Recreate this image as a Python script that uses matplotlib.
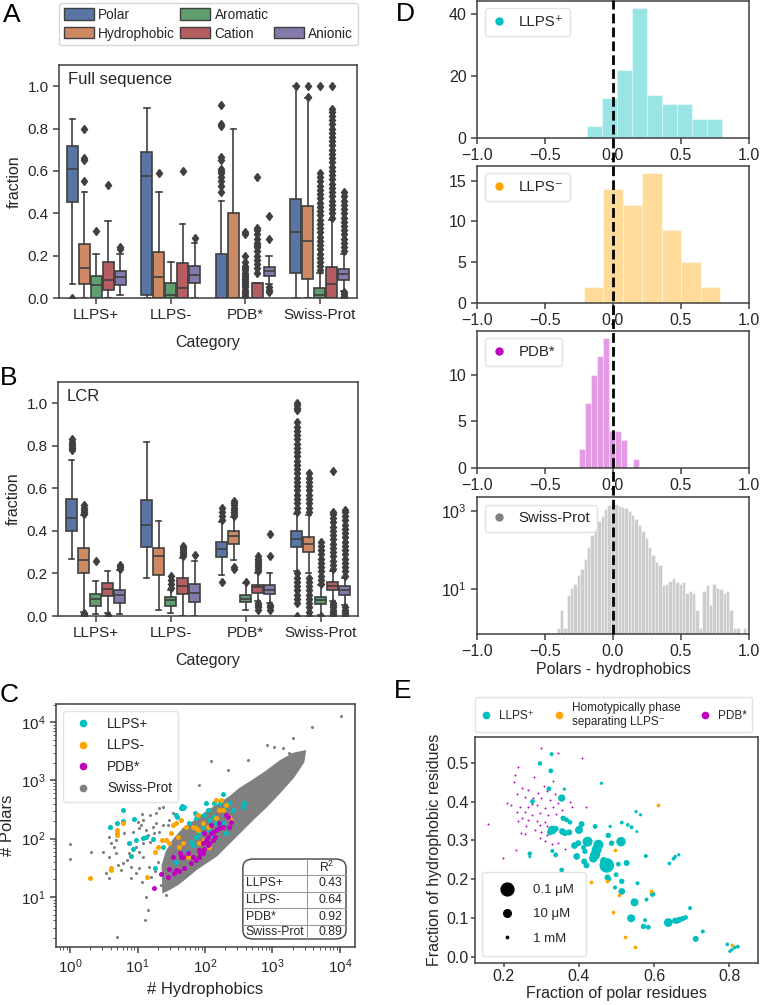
import numpy as np
import matplotlib
matplotlib.use('Agg')
import matplotlib.pyplot as plt
from matplotlib.lines import Line2D
from matplotlib.patches import Patch, FancyBboxPatch

plt.rcParams['font.family'] = ['Liberation Sans', 'DejaVu Sans']
plt.rcParams['mathtext.fontset'] = 'custom'
plt.rcParams['mathtext.rm'] = 'Liberation Sans'
plt.rcParams['mathtext.it'] = 'Liberation Sans:italic'
plt.rcParams['mathtext.bf'] = 'Liberation Sans:bold'
plt.rcParams['axes.edgecolor'] = '#404040'
plt.rcParams['axes.linewidth'] = 1.1
plt.rcParams['text.color'] = '#262626'
plt.rcParams['axes.labelcolor'] = '#262626'
for a in ('xtick', 'ytick'):
    plt.rcParams[f'{a}.color'] = '#404040'
    plt.rcParams[f'{a}.labelcolor'] = '#262626'
    plt.rcParams[f'{a}.major.size'] = 4
    plt.rcParams[f'{a}.minor.size'] = 2.5
    plt.rcParams[f'{a}.major.width'] = 1.1

# ── A / B : box plots (summary stats) ────────────────────────────────────────
categories = ['LLPS+', 'LLPS-', 'PDB*', 'Swiss-Prot']
residue_types = ['Polar', 'Hydrophobic', 'Aromatic', 'Cation', 'Anionic']

full_med = [[0.607, 0.143, 0.060, 0.084, 0.100],
            [0.578, 0.100, 0.013, 0.048, 0.110],
            [0.000, 0.000, 0.000, 0.000, 0.128],
            [0.310, 0.268, 0.013, 0.068, 0.113]]
full_q1 = [[0.455, 0.068, 0.000, 0.037, 0.060],
           [0.013, 0.000, 0.000, 0.000, 0.070],
           [0.000, 0.000, 0.000, 0.000, 0.103],
           [0.119, 0.092, 0.000, 0.000, 0.084]]
full_q3 = [[0.718, 0.254, 0.103, 0.168, 0.127],
           [0.690, 0.219, 0.070, 0.163, 0.152],
           [0.210, 0.400, 0.000, 0.073, 0.148],
           [0.469, 0.433, 0.049, 0.148, 0.135]]
full_lo = [[0.068, 0.000, 0.000, 0.000, 0.013],
           [0.000, 0.000, 0.000, 0.000, 0.000],
           [0.000, 0.000, 0.000, 0.000, 0.068],
           [0.000, 0.000, 0.000, 0.000, 0.035]]
full_hi = [[0.845, 0.500, 0.210, 0.364, 0.210],
           [0.897, 0.500, 0.172, 0.350, 0.260],
           [0.460, 0.800, 0.000, 0.073, 0.200],
           [1.000, 0.943, 0.120, 0.370, 0.210]]
full_fliers = [
    [[0.0], [0.55, 0.65, 0.66, 0.80], [0.315], [0.535], [0.23, 0.24]],
    [[], [0.59], [], [0.60], [0.285]],
    [[0.50, 0.53, 0.55, 0.57, 0.59, 0.60, 0.61, 0.65, 0.665, 0.81, 0.82, 0.91],
     [],
     [0.01, 0.02, 0.03, 0.04, 0.05, 0.06, 0.07, 0.08, 0.09, 0.10, 0.11, 0.12, 0.13,
      0.14, 0.15, 0.17, 0.20, 0.30, 0.31],
     [0.12, 0.14, 0.16, 0.18, 0.20, 0.22, 0.24, 0.25, 0.26, 0.28, 0.30, 0.32, 0.33, 0.57],
     [0.03, 0.04, 0.05, 0.28, 0.385]],
    [[1.0],
     [0.95, 1.0],
     [0.13, 0.15, 0.17, 0.19, 0.21, 0.23, 0.25, 0.27, 0.29, 0.31, 0.33, 0.35, 0.37,
      0.39, 0.41, 0.43, 0.45, 0.47, 0.49, 0.51, 0.53, 0.55, 0.57, 0.59, 1.0],
     [0.38, 0.40, 0.42, 0.44, 0.46, 0.48, 0.50, 0.52, 0.54, 0.56, 0.58, 0.60, 0.62,
      0.64, 0.66, 0.68, 0.70, 0.72, 0.74, 0.76, 0.78, 0.80, 0.82, 0.84, 0.86, 0.88,
      0.89, 1.0],
     [0.0, 0.01, 0.02, 0.03, 0.22, 0.24, 0.26, 0.28, 0.30, 0.32, 0.34, 0.36, 0.38,
      0.40, 0.42, 0.44, 0.46, 0.48, 0.50]],
]

lcr_med = [[0.462, 0.262, 0.079, 0.126, 0.098],
           [0.426, 0.280, 0.073, 0.142, 0.110],
           [0.315, 0.375, 0.082, 0.136, 0.123],
           [0.360, 0.339, 0.073, 0.139, 0.120]]
lcr_q1 = [[0.399, 0.202, 0.047, 0.095, 0.060],
          [0.323, 0.194, 0.049, 0.104, 0.068],
          [0.278, 0.339, 0.065, 0.107, 0.102],
          [0.323, 0.300, 0.055, 0.120, 0.099]]
lcr_q3 = [[0.552, 0.319, 0.103, 0.155, 0.123],
          [0.544, 0.319, 0.088, 0.178, 0.150],
          [0.347, 0.400, 0.098, 0.148, 0.147],
          [0.399, 0.372, 0.091, 0.158, 0.139]]
lcr_lo = [[0.270, 0.020, 0.010, 0.015, 0.010],
          [0.178, 0.028, 0.016, 0.000, 0.000],
          [0.194, 0.265, 0.028, 0.070, 0.060],
          [0.210, 0.200, 0.005, 0.070, 0.050]]
lcr_hi = [[0.732, 0.475, 0.166, 0.210, 0.215],
          [0.820, 0.446, 0.123, 0.273, 0.260],
          [0.440, 0.465, 0.155, 0.200, 0.200],
          [0.480, 0.475, 0.145, 0.210, 0.180]]
lcr_fliers = [
    [[0.78, 0.79, 0.80, 0.81, 0.82, 0.83],
     [0.0, 0.005, 0.01, 0.015, 0.48, 0.49, 0.50, 0.51, 0.52],
     [0.26], [0.0, 0.005], [0.22, 0.23, 0.24]],
    [[], [], [0.13, 0.15, 0.17, 0.19], [0.28, 0.29, 0.30, 0.31, 0.32, 0.33], [0.285]],
    [[0.16, 0.45, 0.47, 0.49, 0.51],
     [0.22, 0.23, 0.47, 0.48, 0.49, 0.50, 0.51, 0.52, 0.53, 0.54],
     [0.16],
     [0.03, 0.04, 0.05, 0.06, 0.21, 0.22, 0.23, 0.24, 0.25, 0.26, 0.27, 0.28],
     [0.03, 0.04, 0.05, 0.28, 0.385]],
    [[0.0, 0.06, 0.08, 0.10, 0.12, 0.14, 0.16, 0.18, 0.20, 0.49, 0.51, 0.53, 0.55,
      0.57, 0.59, 0.61, 0.63, 0.65, 0.67, 0.69, 0.71, 0.73, 0.75, 0.77, 0.79, 0.81,
      0.83, 0.85, 0.87, 0.89, 0.91, 0.97, 0.98, 0.99, 1.0],
     [0.0, 0.02, 0.04, 0.06, 0.08, 0.10, 0.12, 0.14, 0.16, 0.18, 0.49, 0.51, 0.53,
      0.55, 0.57, 0.59, 0.61, 0.63, 0.65, 0.67],
     [0.0, 0.15, 0.17, 0.19, 0.21, 0.23, 0.25, 0.27, 0.29, 0.31, 0.33, 0.35],
     [0.0, 0.01, 0.02, 0.03, 0.04, 0.05, 0.06, 0.22, 0.24, 0.26, 0.28, 0.30, 0.32,
      0.34, 0.36, 0.38, 0.40, 0.42, 0.44, 0.46, 0.48, 0.49, 0.68],
     [0.0, 0.01, 0.02, 0.03, 0.04, 0.19, 0.21, 0.23, 0.25, 0.27, 0.29, 0.31, 0.33,
      0.35, 0.37, 0.39, 0.41, 0.43, 0.45, 0.47, 0.49, 0.50]],
]

# ── C : # polars vs # hydrophobics ───────────────────────────────────────────
c_llps_pos_hyd = [6.0, 6.0, 5.0, 3.9, 9.0, 9.5, 12.2, 13.4, 16.8, 7.4, 8.5, 8.0, 45.6, 49.4,
                  47.7, 44.1, 37.2, 38, 103, 137, 183, 167, 198, 229, 383, 361, 257, 130,
                  116, 146, 92, 82, 74, 62, 66, 116, 130, 163, 183, 205, 55, 37, 18.4, 23.6,
                  58.6, 98, 74, 110, 70]
c_llps_pos_pol = [310, 204, 183, 161, 217, 95, 101, 105, 97, 83, 66, 51, 363, 354, 340, 331,
                  255, 232, 404, 404, 575, 404, 363, 404, 404, 354, 310, 238, 209, 183, 161,
                  123, 108, 89, 78, 141, 101, 161, 183, 123, 60, 40, 31, 73, 183, 255, 223,
                  310, 272]
c_llps_neg_hyd = [2.0, 4.0, 4.0, 5.0, 5.0, 4.9, 6.0, 13.7, 18, 19.9, 23, 26.4, 31.4, 33.2,
                  37.2, 44.1, 41.7, 46.7, 52.3, 65.7, 73.6, 77.8, 92.3, 110, 146, 163, 183,
                  205, 243, 82.4, 97.7, 116, 55.4, 146, 173, 229, 77.8, 39.4, 29.6]
c_llps_neg_pol = [21.4, 29, 31, 141, 123, 116, 183, 22.3, 60, 73, 95, 95, 123, 172, 183, 209,
                  73, 83, 161, 161, 150, 141, 183, 161, 223, 310, 310, 378, 209, 83, 95, 73,
                  49, 460, 460, 238, 255, 108, 83]
c_pdb_hyd = [17.8, 22.5, 28, 29.6, 35.1, 37.2, 41.7, 49.4, 44.1, 47.7, 42.6, 55.4, 65.7, 82.4,
             92.3, 97.7, 92.3, 103, 110, 123, 130, 146, 163, 183, 205, 229, 243, 217, 116,
             110, 130, 142, 82.4, 97.7, 123, 163, 84.3, 62, 73.6, 33.2]
c_pdb_pol = [14.1, 24.8, 22.3, 29.8, 25.4, 29, 28.3, 31, 49.1, 49.1, 56.1, 56.1, 49.1, 64,
             56.1, 65.6, 83.2, 94.9, 108, 123, 132, 141, 150, 156, 255, 161, 196, 238, 83.2,
             77.8, 94.9, 108, 49.1, 123, 172, 183, 56.1, 37.8, 43.1, 49.1]
# outline of the dense Swiss-Prot cloud (upper edge right->left, lower edge left->right)
c_sp_cloud_hyd = [3030, 2037, 1291, 820, 520, 330, 235, 167, 106, 67, 48, 34, 27, 23.6,
                  24.1, 30.3, 40.3, 53.5, 75.3, 106, 149, 209, 330, 520, 820, 1291, 2037,
                  2864]
c_sp_cloud_pol = [3140, 2864, 2117, 1426, 1000, 719, 518, 398, 287, 193, 148, 94, 59, 35,
                  12.2, 13.9, 16.9, 22, 30.6, 39.8, 51.8, 76.9, 130, 220, 363, 631, 1141,
                  2061]
# scattered Swiss-Prot proteins outside the dense cloud
c_sp_hyd = [10350, 3846, 2037, 820, 1065, 1415, 1775, 429, 217, 123, 82, 23.6, 21, 18.8,
            15.3, 11.7, 12.2, 10, 11.3, 10.6, 13.4, 16.8, 18.8, 23.6, 21, 17.8, 14.1, 15.3,
            11.9, 9.5, 10.6, 7.6, 7.1, 6.0, 8.0, 10.6, 9.5, 8.0, 11.7, 4.8, 3.8, 4.05, 4.5,
            4.8, 3.8, 3.05, 5.1, 5.7, 2.05, 1, 1, 11.9, 15, 13.4, 14.1, 13.1, 4.9, 33.2,
            29.6, 28, 8.5, 6.4, 3.4, 3.8, 20, 18, 16, 22, 26]
c_sp_pol = [12840, 8318, 5248, 4036, 3776, 3631, 2904, 2233, 1503, 2143, 832, 354, 331, 272,
            255, 261, 209, 196, 172, 150, 141, 161, 183, 172, 132, 123, 116, 89, 83, 73, 60,
            56, 43, 38, 33, 31, 25.4, 20.9, 18.3, 95, 108, 83, 73, 56, 49, 60, 35, 29, 60,
            81, 45, 49, 33, 10.1, 6.0, 4.0, 2.1, 272, 209, 172, 132, 123, 25.4, 20.9, 40,
            28, 22, 16, 11]
r2_labels = ['LLPS+', 'LLPS-', 'PDB*', 'Swiss-Prot']
r2_values = ['0.43', '0.64', '0.92', '0.89']

# ── D : polars - hydrophobics histograms ─────────────────────────────────────
d_llps_pos_counts = [4, 13, 22, 42, 14, 11, 11, 6, 6]
d_llps_pos_range = (-0.19, 0.80)
d_llps_neg_counts = [2, 14, 12, 16, 9, 5, 2]
d_llps_neg_range = (-0.213, 0.789)
d_pdb_counts = [2, 7, 10, 12, 14, 4, 4, 3, 0, 1]
d_pdb_range = (-0.247, 0.193)
d_sp_counts = [1, 3, 1, 7, 11, 14, 23, 33, 61, 122, 243, 360, 555, 760, 1130, 1430, 1660,
               1480, 1370, 1290, 1170, 1000, 790, 620, 455, 306, 207, 122, 74, 50, 41, 13,
               14, 16, 20, 15, 14, 15, 8, 9, 8, 3, 1, 9, 13, 4, 14, 11, 10, 8, 9, 3, 1, 1,
               0, 1]
d_sp_range = (-0.415, 0.98)

# ── E : polar vs hydrophobic fraction, size = saturation concentration ──────
e_llps_polar = [0.327, 0.296, 0.325, 0.320, 0.361, 0.460, 0.354, 0.276, 0.358, 0.367, 0.376,
                0.407, 0.443, 0.483, 0.514, 0.530, 0.540, 0.552, 0.564, 0.554, 0.329, 0.323,
                0.338, 0.356, 0.363, 0.374, 0.400, 0.388, 0.398, 0.423, 0.452, 0.447, 0.443,
                0.438, 0.478, 0.512, 0.487, 0.416, 0.412, 0.394, 0.414, 0.420, 0.474, 0.466,
                0.505, 0.527, 0.329, 0.338, 0.269, 0.269, 0.354, 0.476, 0.480, 0.499, 0.514,
                0.556, 0.496, 0.514, 0.596, 0.580, 0.548, 0.539, 0.576, 0.572, 0.585, 0.638,
                0.656, 0.667, 0.676, 0.684, 0.661, 0.696, 0.711, 0.730, 0.641, 0.652, 0.656,
                0.666, 0.578, 0.795, 0.823, 0.814, 0.807, 0.802]
e_llps_hydro = [0.522, 0.498, 0.479, 0.433, 0.432, 0.447, 0.409, 0.400, 0.357, 0.353, 0.347,
                0.342, 0.336, 0.336, 0.346, 0.340, 0.334, 0.374, 0.366, 0.323, 0.327, 0.321,
                0.330, 0.323, 0.319, 0.321, 0.327, 0.287, 0.293, 0.297, 0.289, 0.276, 0.263,
                0.254, 0.313, 0.297, 0.293, 0.272, 0.282, 0.259, 0.246, 0.236, 0.236, 0.248,
                0.239, 0.242, 0.273, 0.263, 0.266, 0.258, 0.224, 0.205, 0.201, 0.212, 0.195,
                0.190, 0.179, 0.169, 0.162, 0.148, 0.141, 0.100, 0.095, 0.079, 0.077, 0.089,
                0.094, 0.096, 0.099, 0.102, 0.092, 0.126, 0.047, 0.066, 0.241, 0.253, 0.258,
                0.263, 0.260, 0.033, 0.027, 0.025, 0.019, 0.015]
e_llps_csat_uM = [240, 150, 120, 120, 450, 450, 13, 120, 70, 120, 120, 41, 120, 450, 300, 300,
                  240, 450, 450, 600, 3.8, 41, 41, 22, 41, 41, 7, 22, 41, 1.2, 1.2, 1.2, 1.2,
                  5, 70, 2, 70, 70, 120, 22, 41, 41, 0.02, 13, 120, 41, 240, 120, 150, 600,
                  120, 41, 120, 120, 70, 240, 240, 22, 70, 240, 7, 7, 240, 70, 120, 3.8, 41,
                  41, 70, 120, 120, 240, 41, 240, 300, 300, 300, 450, 240, 300, 240, 240, 450,
                  450]
e_homo_polar = [0.610, 0.496, 0.432, 0.474, 0.507, 0.591, 0.492, 0.523, 0.549, 0.809]
e_homo_hydro = [0.390, 0.276, 0.192, 0.197, 0.160, 0.169, 0.117, 0.051, 0.026, 0.030]
e_pdb_polar = [0.298, 0.343, 0.407, 0.238, 0.228, 0.281, 0.307, 0.330, 0.247, 0.265, 0.292,
               0.314, 0.336, 0.234, 0.256, 0.278, 0.300, 0.323, 0.345, 0.207, 0.220, 0.243,
               0.265, 0.287, 0.309, 0.332, 0.376, 0.381, 0.420, 0.234, 0.256, 0.274, 0.296,
               0.318, 0.340, 0.247, 0.265, 0.287, 0.309, 0.238, 0.296, 0.314, 0.260, 0.158,
               0.245, 0.256, 0.314, 0.296, 0.309, 0.345, 0.327, 0.231, 0.363, 0.198, 0.300,
               0.283, 0.274, 0.354, 0.363, 0.229]
e_pdb_hydro = [0.537, 0.526, 0.512, 0.490, 0.450, 0.464, 0.439, 0.452, 0.434, 0.430, 0.422,
               0.426, 0.419, 0.419, 0.413, 0.409, 0.410, 0.404, 0.396, 0.396, 0.390, 0.387,
               0.387, 0.392, 0.383, 0.387, 0.400, 0.387, 0.387, 0.374, 0.373, 0.366, 0.370,
               0.366, 0.368, 0.357, 0.353, 0.350, 0.347, 0.349, 0.340, 0.336, 0.336, 0.342,
               0.319, 0.316, 0.314, 0.306, 0.299, 0.293, 0.290, 0.276, 0.278, 0.256, 0.323,
               0.327, 0.393, 0.379, 0.353, 0.469]
e_size_legend_uM = [0.1, 10, 1000]
e_size_legend_labels = ['0.1 μM', '10 μM', '1 mM']

# ── style ─────────────────────────────────────────────────────────────────────
BOX_COLORS = ['#5875a4', '#cc8963', '#5f9e6e', '#b55d60', '#857aab']
LINE_GRAY = '#3f3f3f'
W, H = 762, 1005


def rect(left, top, right, bottom):
    return [left / W, 1 - bottom / H, (right - left) / W, (bottom - top) / H]


def csat_size(c_uM):
    d_px = 10.2 - 2.6 * np.log10(np.asarray(c_uM, dtype=float))
    return (0.72 * d_px) ** 2


def draw_boxes(ax, med, q1, q3, lo, hi, fliers, title):
    for i in range(len(categories)):
        for j in range(len(residue_types)):
            st = dict(med=med[i][j], q1=q1[i][j], q3=q3[i][j],
                      whislo=lo[i][j], whishi=hi[i][j], fliers=fliers[i][j])
            ax.bxp([st], positions=[i + (j - 2) * 0.16], widths=0.15, patch_artist=True,
                   manage_ticks=False,
                   boxprops=dict(facecolor=BOX_COLORS[j], edgecolor=LINE_GRAY, linewidth=1.2),
                   medianprops=dict(color=LINE_GRAY, linewidth=1.2),
                   whiskerprops=dict(color=LINE_GRAY, linewidth=1.2),
                   capprops=dict(color=LINE_GRAY, linewidth=1.2),
                   flierprops=dict(marker='d', markerfacecolor=LINE_GRAY,
                                   markeredgecolor=LINE_GRAY, markersize=4.5, linestyle='none'))
    ax.set_xlim(-0.5, 3.5)
    ax.set_ylim(0, 1.1)
    ax.set_xticks(range(len(categories)))
    ax.set_xticklabels(categories)
    ax.set_yticks([0, 0.2, 0.4, 0.6, 0.8, 1.0])
    ax.tick_params(labelsize=11)
    ax.set_xlabel('Category', fontsize=11.5, labelpad=9)
    ax.set_ylabel('fraction', fontsize=11.5)
    ax.text(0.03, 0.97, title, transform=ax.transAxes, fontsize=12, va='top', ha='left')


fig = plt.figure(figsize=(W / 100, H / 100), dpi=100)

# A
ax_a = fig.add_axes(rect(59, 65, 357, 298))
draw_boxes(ax_a, full_med, full_q1, full_q3, full_lo, full_hi, full_fliers, 'Full sequence')
handles = [Patch(facecolor=BOX_COLORS[0], edgecolor=LINE_GRAY),
           Patch(facecolor=BOX_COLORS[1], edgecolor=LINE_GRAY),
           Patch(facecolor=BOX_COLORS[2], edgecolor=LINE_GRAY),
           Patch(facecolor=BOX_COLORS[3], edgecolor=LINE_GRAY),
           Patch(facecolor='none', edgecolor='none'),
           Patch(facecolor=BOX_COLORS[4], edgecolor=LINE_GRAY)]
labels = ['Polar', 'Hydrophobic', 'Aromatic', 'Cation', '', 'Anionic']
fig.legend(handles, labels, ncol=3, loc='upper left', mode='expand',
           bbox_to_anchor=(59 / W, 1 - 46 / H, 299 / W, 43 / H), borderaxespad=0,
           fontsize=9.8, handlelength=2.2, handleheight=0.9, columnspacing=0.4,
           handletextpad=0.3, labelspacing=0.35, borderpad=0.35, edgecolor='#cccccc')

# B
ax_b = fig.add_axes(rect(58, 382, 358, 616))
draw_boxes(ax_b, lcr_med, lcr_q1, lcr_q3, lcr_lo, lcr_hi, lcr_fliers, 'LCR')

# C
ax_c = fig.add_axes(rect(56, 704, 355, 947))
ax_c.set_xscale('log')
ax_c.set_yscale('log')
ax_c.fill(c_sp_cloud_hyd, c_sp_cloud_pol, color='gray', lw=1.5, zorder=1)
ax_c.scatter(c_sp_hyd, c_sp_pol, s=5, color='gray', lw=0, zorder=1)
ax_c.scatter(c_llps_pos_hyd, c_llps_pos_pol, s=13, color='c', lw=0, zorder=2)
ax_c.scatter(c_llps_neg_hyd, c_llps_neg_pol, s=13, color='orange', lw=0, zorder=2)
ax_c.scatter(c_pdb_hyd, c_pdb_pol, s=13, color='m', lw=0, zorder=3)
ax_c.set_xlim(0.62, 16700)
ax_c.set_ylim(1.39, 20400)
ax_c.tick_params(labelsize=11)
ax_c.set_xlabel('# Hydrophobics', fontsize=12)
ax_c.set_ylabel('# Polars', fontsize=12)
leg_h = [Line2D([], [], marker='o', ls='', color=col, markersize=4.5)
         for col in ['c', 'orange', 'm', 'gray']]
ax_c.legend(leg_h, ['LLPS+', 'LLPS-', 'PDB*', 'Swiss-Prot'], loc='upper left',
            fontsize=9.8, handletextpad=0.8, labelspacing=0.55, borderpad=0.45,
            edgecolor='#dddddd')
# R^2 table
tx0, tx1, ty0, ty1, colx = 0.625, 0.970, 0.033, 0.362, 0.839
row_lines = [0.296, 0.228, 0.159, 0.091]
ax_c.add_patch(FancyBboxPatch((tx0, ty0), tx1 - tx0, ty1 - ty0,
                              boxstyle='round,pad=0,rounding_size=0.035',
                              transform=ax_c.transAxes, facecolor='white',
                              edgecolor='#404040', lw=1, zorder=5))
ax_c.plot([colx, colx], [ty0, ty1], transform=ax_c.transAxes, color='#999999', lw=0.8, zorder=6)
for yl in row_lines:
    ax_c.plot([tx0, tx1], [yl, yl], transform=ax_c.transAxes, color='#999999', lw=0.8, zorder=6)
ax_c.text((colx + tx1) / 2, (ty1 + row_lines[0]) / 2, 'R$^2$', transform=ax_c.transAxes,
          ha='center', va='center', fontsize=8.8, zorder=7)
row_edges = row_lines + [ty0]
for k, (lab, val) in enumerate(zip(r2_labels, r2_values)):
    yc = (row_edges[k] + row_edges[k + 1]) / 2
    ax_c.text(tx0 + 0.01, yc, lab, transform=ax_c.transAxes,
              ha='left', va='center', fontsize=8.8, zorder=7)
    ax_c.text(tx1 - 0.012, yc, val, transform=ax_c.transAxes, ha='right', va='center',
              fontsize=8.8, zorder=7)

# D
d_panels = [
    (rect(477, 1, 749, 138), d_llps_pos_counts, d_llps_pos_range, 'c', 'LLPS⁺', [0, 20, 40]),
    (rect(477, 166, 749, 303), d_llps_neg_counts, d_llps_neg_range, 'orange', 'LLPS⁻',
     [0, 5, 10, 15]),
    (rect(477, 331, 749, 468), d_pdb_counts, d_pdb_range, 'm', 'PDB*', [0, 5, 10]),
    (rect(477, 497, 749, 634), d_sp_counts, d_sp_range, 'gray', 'Swiss-Prot', None),
]
for pos, counts, rng, col, lab, yt in d_panels:
    ax = fig.add_axes(pos)
    edges = np.linspace(rng[0], rng[1], len(counts) + 1)
    centers = (edges[:-1] + edges[1:]) / 2
    if yt is None:
        ax.set_yscale('log')
    ax.hist(centers, bins=edges, weights=counts, color=col, alpha=0.4,
            edgecolor='white', linewidth=0.8)
    ax.set_xlim(-1, 1)
    ax.set_xticks([-1, -0.5, 0, 0.5, 1])
    if yt is None:
        ax.set_ylim(0.72, 2300)
        ax.set_yticks([10, 1000])
        ax.yaxis.set_minor_locator(matplotlib.ticker.NullLocator())
        ax.set_xlabel('Polars - hydrophobics', fontsize=11.5, labelpad=2)
    else:
        ax.set_yticks(yt)
    ax.tick_params(labelsize=11.5)
    ax.legend([Line2D([], [], marker='o', ls='', color=col, markersize=5)], [lab],
              loc='upper left', fontsize=10.8, handlelength=1.0, handletextpad=0.8,
              borderpad=0.45, edgecolor='#dddddd')
fig.add_artist(Line2D([613 / W, 613 / W], [1 - 634 / H, 1.0], transform=fig.transFigure,
                      color='k', ls=(0, (3.5, 1.5)), lw=2, zorder=10))

# E
ax_e = fig.add_axes(rect(475, 737, 758, 963))
ax_e.scatter(e_pdb_polar, e_pdb_hydro, s=2, color='m', lw=0, zorder=2)
ax_e.scatter(e_llps_polar, e_llps_hydro, s=csat_size(e_llps_csat_uM), color='c', lw=0, zorder=3)
ax_e.scatter(e_homo_polar, e_homo_hydro, s=7, color='orange', lw=0, zorder=4)
ax_e.set_xlim(0.123, 0.877)
ax_e.set_ylim(-0.015, 0.566)
ax_e.set_xticks([0.2, 0.4, 0.6, 0.8])
ax_e.set_yticks([0.0, 0.1, 0.2, 0.3, 0.4, 0.5])
ax_e.tick_params(labelsize=11.5, length=3, pad=1.5)
ax_e.set_xlabel('Fraction of polar residues', fontsize=11.5, labelpad=1)
ax_e.set_ylabel('Fraction of hydrophobic residues', fontsize=11.5, labelpad=3)
size_h = [Line2D([], [], marker='o', ls='', color='k', markersize=float(np.sqrt(s)))
          for s in csat_size(e_size_legend_uM)]
ax_e.legend(size_h, e_size_legend_labels, loc='lower left', fontsize=9.5, labelspacing=0.9,
            borderpad=0.9, handletextpad=1.0, edgecolor='#dddddd')
top_h = [Line2D([], [], marker='o', ls='', color=col, markersize=4.5)
         for col in ['c', 'orange', 'm']]
fig.legend(top_h, ['LLPS⁺', 'Homotypically phase\nseparating LLPS⁻', 'PDB*'], ncol=3,
           loc='upper left', mode='expand', bbox_to_anchor=(475 / W, 1 - 729 / H, 277 / W, 32 / H),
           borderaxespad=0, fontsize=8.5, handlelength=1.0, handletextpad=0.6,
           edgecolor='#dddddd')

# panel letters
for letter, x, y in [('A', 3, 3), ('B', 0, 366), ('C', 0, 683), ('D', 396, 2), ('E', 394, 679)]:
    fig.text(x / W, 1 - y / H, letter, fontsize=19, ha='left', va='top', color='k')

fig.savefig('out.png', dpi=100)
